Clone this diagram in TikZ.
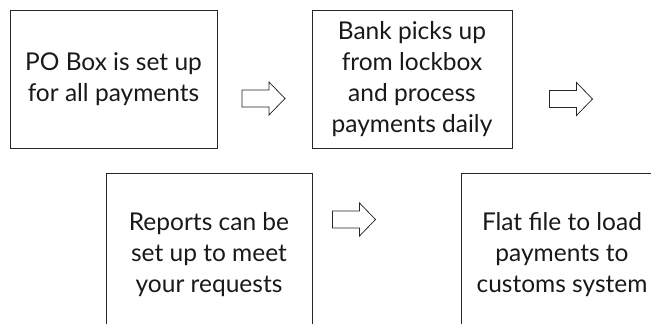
\documentclass[tikz,border=0pt]{standalone}
\usepackage{fontspec}
\setmainfont{Lato}
\begin{document}
\begin{tikzpicture}[x=1pt,y=-1pt,
  box/.style={draw=black!85, line width=0.9pt, align=center, inner sep=0pt,
    font=\fontsize{24.5}{31}\selectfont, text=black!90},
  arrowline/.style={draw=black!85, line width=0.75pt, fill=white, line join=miter},
  barrow/.pic={\draw[arrowline] (-21.5,-8.5) -- (5.5,-8.5) -- (5.5,-16.5) -- (21.5,0)
     -- (5.5,16.5) -- (5.5,8.5) -- (-21.5,8.5) -- cycle;}]
\useasboundingbox (0,0) rectangle (651,324);
\clip (0,0) rectangle (651,324);
\node[box, minimum width=207, minimum height=138] (b1) at (113.5,79)
  {PO Box is set up\\for all payments};
\node[box, minimum width=200, minimum height=138] (b2) at (412,79)
  {Bank picks up\\from lockbox\\and process\\payments daily};
\node[box, minimum width=206, minimum height=164] (b3) at (209,255)
  {Reports can be\\set up to meet\\your requests};
\node[box, minimum width=202, minimum height=164] (b4) at (562,255)
  {Flat file to load\\payments to\\customs system};
\pic (a1) at (263.5,98.5) {barrow};
\pic (a2) at (571,99) {barrow};
\pic (a3) at (354,219.5) {barrow};
\end{tikzpicture}
\end{document}
